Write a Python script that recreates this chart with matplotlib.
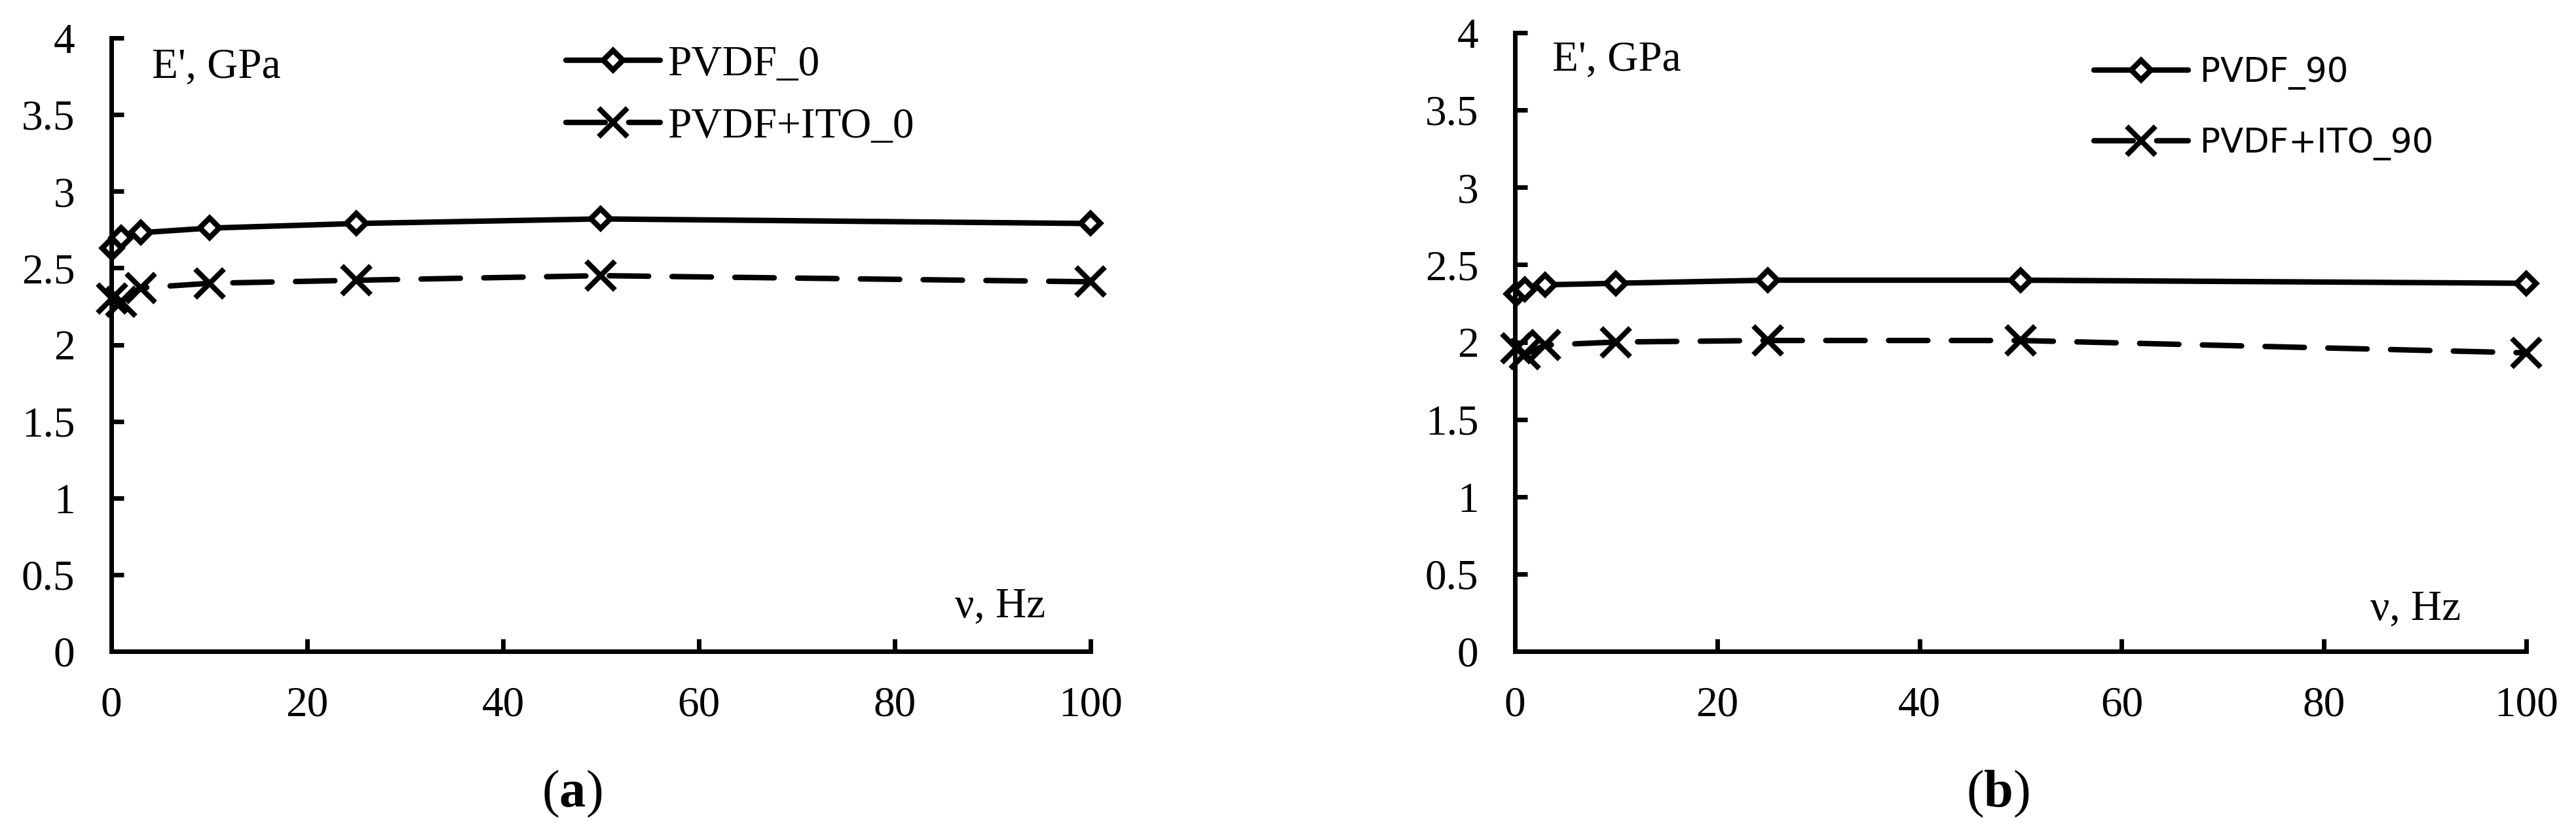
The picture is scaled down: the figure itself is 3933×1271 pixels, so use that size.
import matplotlib
matplotlib.use("Agg")
import matplotlib.pyplot as plt

# Data (frequency in Hz, storage modulus E' in GPa)
freq = [0.1, 1, 3, 10, 25, 50, 100]

pvdf_0 = [2.63, 2.70, 2.73, 2.76, 2.79, 2.82, 2.79]
pvdf_ito_0 = [2.30, 2.28, 2.37, 2.40, 2.42, 2.45, 2.41]

pvdf_90 = [2.31, 2.34, 2.37, 2.38, 2.40, 2.40, 2.38]
pvdf_ito_90 = [1.96, 1.92, 1.98, 2.00, 2.01, 2.01, 1.93]

labels_a = ['PVDF_0', 'PVDF+ITO_0']
labels_b = ['PVDF_90', 'PVDF+ITO_90']

xticks = [0, 20, 40, 60, 80, 100]
yticks = [0, 0.5, 1, 1.5, 2, 2.5, 3, 3.5, 4]
ytick_labels = ['0', '0.5', '1', '1.5', '2', '2.5', '3', '3.5', '4']

serif = 'Liberation Serif'
plt.rcParams['font.family'] = [serif, 'DejaVu Sans']
plt.rcParams['mathtext.fontset'] = 'custom'
plt.rcParams['mathtext.rm'] = serif
plt.rcParams['mathtext.bf'] = serif + ':bold'

W, H = 3933, 1271
fig = plt.figure(figsize=(W / 100, H / 100), dpi=100)

ax1 = fig.add_axes([170 / W, 1 - 995 / H, (1665 - 170) / W, (995 - 58) / H])
ax2 = fig.add_axes([2313 / W, 1 - 995 / H, (3857 - 2313) / W, (995 - 50) / H])

lw = 6
dash = (7.2, 4.3)


def draw(ax, y1, y2, labels):
    ax.plot(freq, y1, color='black', lw=lw, marker='D', ms=15, mfc='white',
            mec='black', mew=6, solid_capstyle='round', clip_on=False, label=labels[0])
    ax.plot(freq, y2, color='black', lw=lw, ls=(0, dash), dash_capstyle='round',
            marker='x', ms=32, mew=5.8, clip_on=False, label=labels[1])
    ax.set_xlim(0, 100)
    ax.set_ylim(0, 4)
    ax.set_xticks(xticks)
    ax.set_yticks(yticks)
    ax.set_yticklabels(ytick_labels)
    for s in ['top', 'right']:
        ax.spines[s].set_visible(False)
    for s in ['left', 'bottom']:
        ax.spines[s].set_linewidth(5)
    ax.tick_params(direction='in', length=14, width=5, labelsize=47, pad=38)
    ax.tick_params(axis='y', pad=40)


draw(ax1, pvdf_0, pvdf_ito_0, labels_a)
draw(ax2, pvdf_90, pvdf_ito_90, labels_b)

# Axis captions inside the plots
fig.text(232 / W, 1 - 118 / H, "E', GPa", fontsize=47, va='baseline')
fig.text(2370 / W, 1 - 107 / H, "E', GPa", fontsize=47, va='baseline')
fig.text(1458 / W, 1 - 942 / H, "ν, Hz", fontsize=47, va='baseline')
fig.text(3619 / W, 1 - 946 / H, "ν, Hz", fontsize=47, va='baseline')

# Legends
ax1.legend(loc='upper left', bbox_to_anchor=(864 / W, 1 - 69 / H),
           bbox_transform=fig.transFigure, frameon=False, borderpad=0,
           borderaxespad=0, handlelength=2.2, handletextpad=0.18,
           labelspacing=0.55, prop={'family': serif, 'size': 47})
ax2.legend(loc='upper left', bbox_to_anchor=(3197 / W, 1 - 86 / H),
           bbox_transform=fig.transFigure, frameon=False, borderpad=0,
           borderaxespad=0, handlelength=2.8, handletextpad=0.35,
           labelspacing=1.1, prop={'family': 'DejaVu Sans', 'size': 37})

# Panel labels
for x, letter in [(873, 'a'), (3050, 'b')]:
    fig.text(x / W, 1 - 1213 / H, '(' + r'$\mathbf{' + letter + '}$' + ')',
             fontsize=58, ha='center', va='center')

fig.savefig('out.png', dpi=100)
